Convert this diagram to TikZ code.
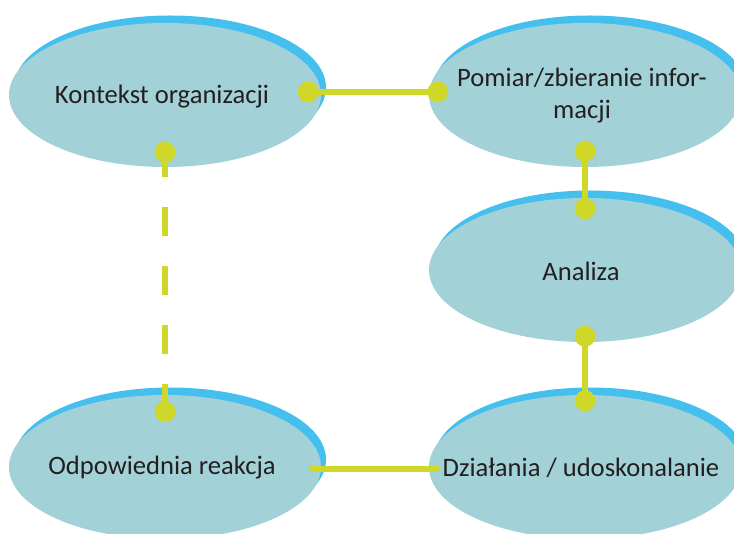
\documentclass[tikz,border=0pt]{standalone}
\usepackage{fontspec}
\setmainfont{Carlito}
\usetikzlibrary{shapes.geometric,shadows}

\definecolor{bubble}{HTML}{A2D2D7}
\definecolor{rim}{HTML}{44BFEE}
\definecolor{linkgreen}{HTML}{CFD728}
\definecolor{ink}{HTML}{231F20}

\tikzset{
  stage/.style={ellipse, fill=bubble, minimum width=312pt, minimum height=144pt,
    inner sep=0pt,
    general shadow={fill=rim, shadow xshift=5pt, shadow yshift=7.5pt}},
  stagetext/.style={text=ink, align=center, inner sep=0pt,
    font=\fontsize{26.6}{32}\selectfont},
  link/.style={draw=linkgreen, line width=6.5pt},
  dotted link/.style={link, dash pattern=on 29pt off 30pt, dash phase=4pt},
  knob/.style={circle, fill=linkgreen, minimum size=21pt, inner sep=0pt}
}

\begin{document}
\begin{tikzpicture}[x=1pt, y=-1pt]
  \useasboundingbox (0,0) rectangle (734,534);
  \clip (0,0) rectangle (734,534);

  % the five stages (ellipse sized independently of its caption)
  \node[stage, label={[stagetext, xshift=-3pt, yshift=-2pt]center:Kontekst organizacji}]
    (ctx) at (165,95) {};
  \node[stage, label={[stagetext, xshift=-3pt, yshift=-1pt]center:Pomiar/zbieranie infor-\\macji}]
    (meas) at (585,95) {};
  \node[stage, label={[stagetext, xshift=-4pt, yshift=-1pt]center:Analiza}]
    (ana) at (585,270) {};
  \node[stage, label={[stagetext, xshift=-3pt, yshift=-1pt]center:Odpowiednia reakcja}]
    (resp) at (165,467) {};
  \node[stage, label={[stagetext, xshift=-4pt, yshift=-1pt]center:Działania / udoskonalanie}]
    (act) at (585,467) {};

  % connection points
  \coordinate (ctxR)  at ([xshift=-13pt,yshift=3pt]ctx.east);
  \coordinate (measL) at ([xshift=9pt,yshift=3pt]meas.west);
  \coordinate (ctxB)  at ([yshift=15pt]ctx.south);
  \coordinate (respT) at ([yshift=-17pt]resp.north);
  \coordinate (measB) at ([yshift=16pt]meas.south);
  \coordinate (anaT)  at ([yshift=-11pt]ana.north);
  \coordinate (anaB)  at ([yshift=6pt]ana.south);
  \coordinate (actT)  at ([yshift=-6pt]act.north);
  \coordinate (respR) at ([xshift=-12pt,yshift=-2pt]resp.east);
  \coordinate (actL)  at ([xshift=11pt,yshift=-2pt]act.west);

  % connectors
  \draw[link] (ctxR) -- (measL);
  \draw[link] (measB) -- (anaT);
  \draw[link] (anaB) -- (actT);
  \draw[link] (respR) -- (actL);
  \draw[dotted link] (ctxB) -- (respT);

  % end knobs
  \foreach \p in {ctxR, measL, ctxB, respT, measB, anaT, anaB, actT}
    \node[knob] at (\p) {};
\end{tikzpicture}
\end{document}
